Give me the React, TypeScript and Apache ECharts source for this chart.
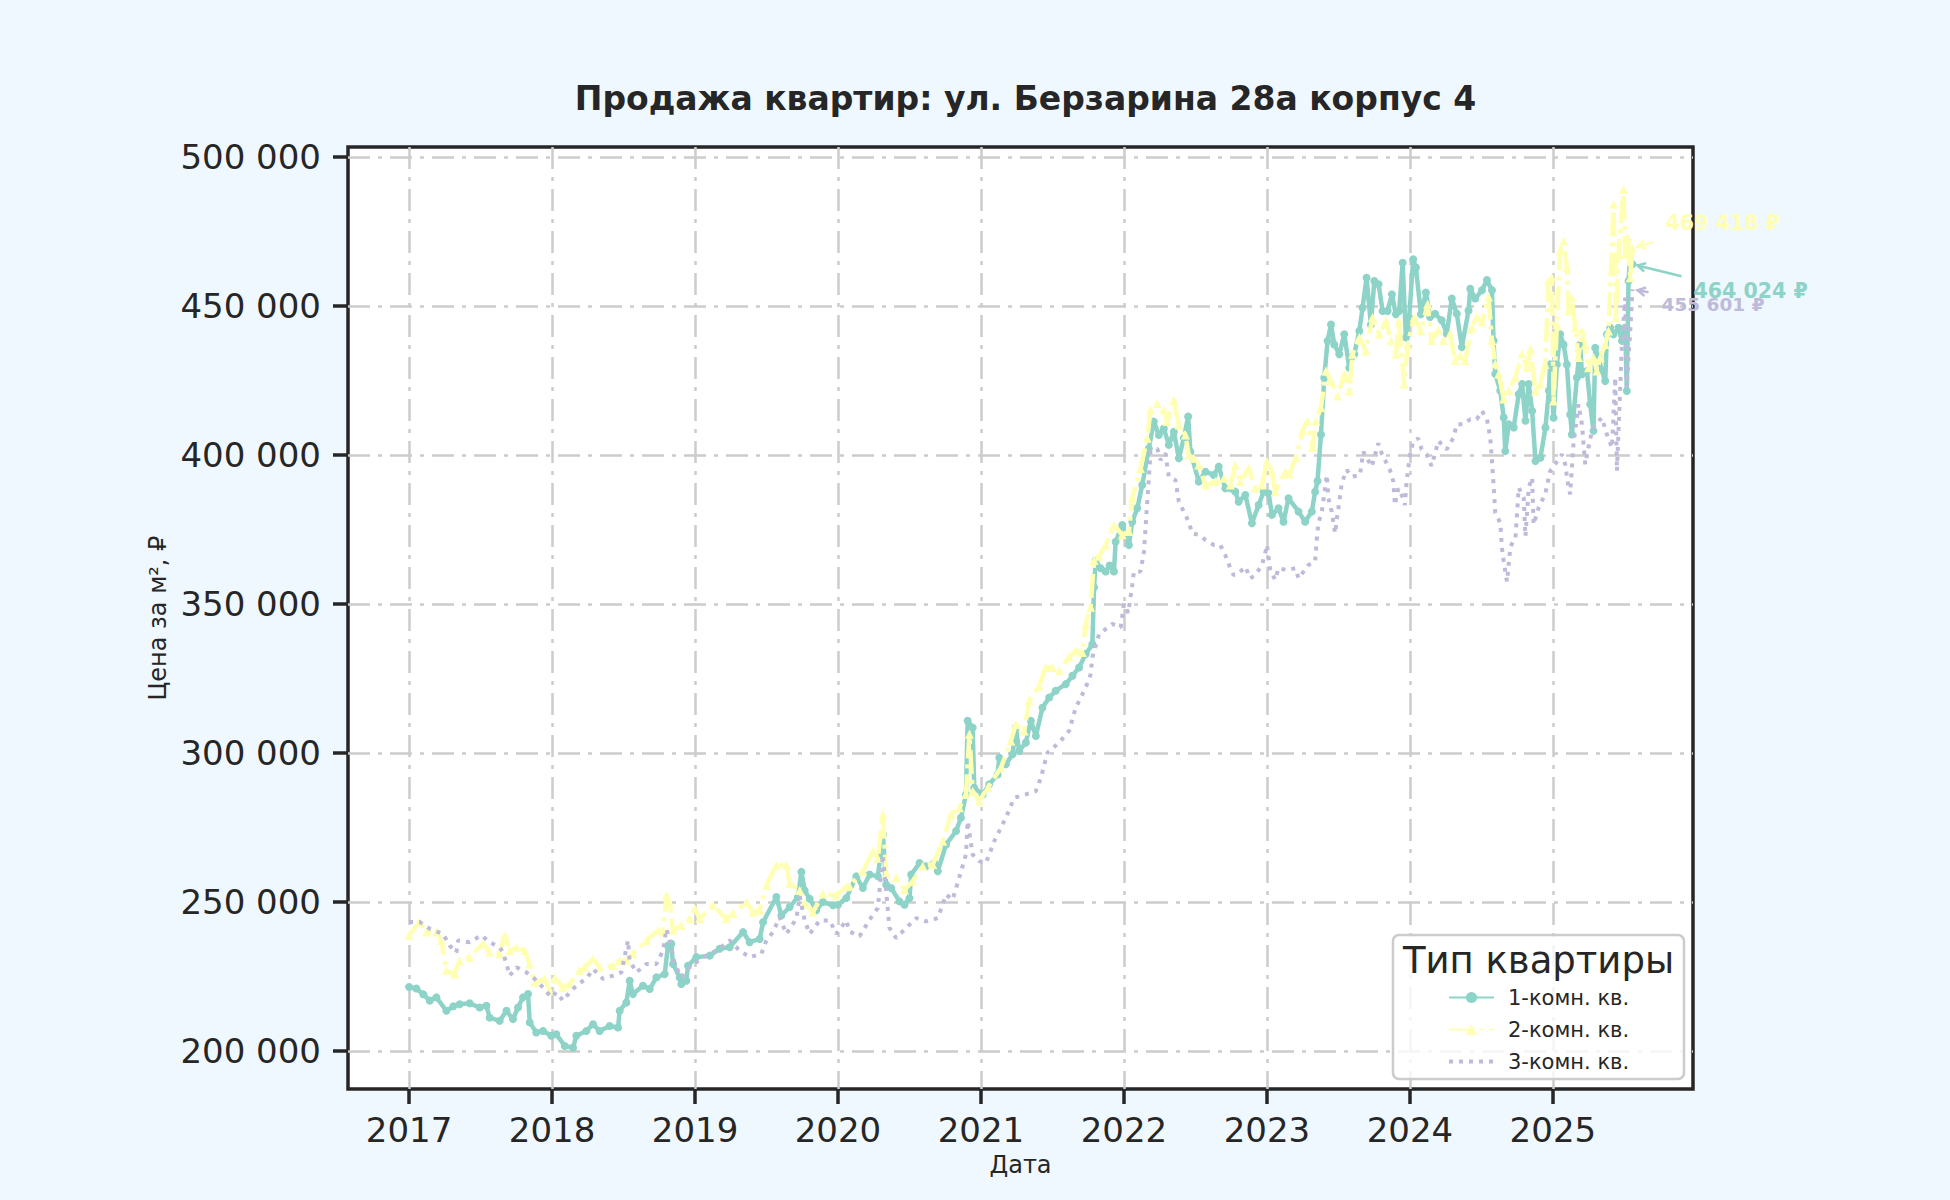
import React, { useEffect, useRef } from "react";
import * as echarts from "echarts";

const TITLE = "Продажа квартир: ул. Берзарина 28а корпус 4";
const X_NAME = "Дата";
const Y_NAME = "Цена за м², ₽";
const LEGEND_TITLE = "Тип квартиры";
const SERIES_NAMES = ["1-комн. кв.", "2-комн. кв.", "3-комн. кв."];
const COLORS = ["#8dd3c7", "#ffffb3", "#bebada"];
const X_TICKS = [2017, 2018, 2019, 2020, 2021, 2022, 2023, 2024, 2025];
const Y_TICKS = [200000, 250000, 300000, 350000, 400000, 450000, 500000];

// [decimal year, price per m²]
const oneRoom: [number, number][] = [
  [2017.000, 221500], [2017.051, 221000], [2017.100, 219000], [2017.145, 216900], [2017.191, 218000],
  [2017.261, 213500], [2017.310, 215000], [2017.354, 215700], [2017.424, 216000], [2017.494, 214600],
  [2017.541, 215200], [2017.564, 211200], [2017.634, 210100], [2017.681, 213500], [2017.727, 210700],
  [2017.762, 214600], [2017.797, 218000], [2017.832, 219100], [2017.844, 209600], [2017.890, 206200],
  [2017.937, 206700], [2017.995, 205100], [2018.030, 205600], [2018.089, 201700], [2018.147, 201100],
  [2018.170, 205100], [2018.240, 206700], [2018.287, 209000], [2018.333, 206700], [2018.403, 208400],
  [2018.462, 207900], [2018.473, 213500], [2018.520, 216300], [2018.543, 223600], [2018.566, 219100],
  [2018.636, 221900], [2018.683, 220800], [2018.730, 224700], [2018.788, 225800], [2018.811, 235400],
  [2018.834, 236000], [2018.846, 229200], [2018.893, 224700], [2018.904, 222500], [2018.939, 223600],
  [2018.951, 228600], [2019.009, 231500], [2019.103, 232000], [2019.172, 234300], [2019.242, 234800],
  [2019.336, 239900], [2019.382, 236500], [2019.452, 237600], [2019.476, 243200], [2019.569, 251700],
  [2019.604, 245500], [2019.662, 248300], [2019.720, 251700], [2019.744, 260100], [2019.767, 253900],
  [2019.802, 251100], [2019.848, 247200], [2019.895, 250000], [2019.965, 248900], [2020.000, 249100],
  [2020.058, 251300], [2020.128, 258600], [2020.174, 254700], [2020.221, 259200], [2020.279, 258600],
  [2020.314, 272600], [2020.337, 255800], [2020.372, 254700], [2020.430, 250200], [2020.465, 249100],
  [2020.500, 251300], [2020.512, 259200], [2020.570, 263100], [2020.616, 262000], [2020.674, 263100],
  [2020.698, 260300], [2020.756, 269300], [2020.826, 273800], [2020.860, 278300], [2020.895, 286100],
  [2020.907, 310800], [2020.942, 308500], [2020.953, 288300], [2021.012, 286100], [2021.058, 289500],
  [2021.116, 292800], [2021.128, 298400], [2021.174, 296200], [2021.221, 299600], [2021.244, 308500],
  [2021.267, 300700], [2021.314, 303500], [2021.349, 310800], [2021.384, 305700], [2021.430, 315200],
  [2021.477, 318600], [2021.523, 320900], [2021.593, 323100], [2021.640, 325900], [2021.686, 328700],
  [2021.733, 333200], [2021.779, 336500], [2021.791, 355600], [2021.802, 364600], [2021.837, 362000],
  [2021.872, 360900], [2021.900, 362900], [2021.930, 360900], [2021.942, 370900], [2021.988, 376500],
  [2022.035, 369800], [2022.058, 377600], [2022.093, 382100], [2022.128, 389900], [2022.174, 402200],
  [2022.209, 411200], [2022.244, 406700], [2022.279, 408900], [2022.314, 403400], [2022.349, 407800],
  [2022.384, 398900], [2022.419, 405600], [2022.449, 412900], [2022.465, 401100], [2022.523, 391100],
  [2022.570, 394400], [2022.628, 393300], [2022.663, 396100], [2022.709, 388800], [2022.779, 387700],
  [2022.802, 384300], [2022.849, 386600], [2022.895, 377100], [2022.942, 383200], [2022.977, 387700],
  [2023.012, 387100], [2023.035, 379900], [2023.081, 382100], [2023.116, 377600], [2023.151, 385500],
  [2023.221, 381000], [2023.267, 377600], [2023.314, 381000], [2023.337, 387700], [2023.354, 391300],
  [2023.378, 406900], [2023.401, 425900], [2023.424, 438300], [2023.448, 443800], [2023.471, 437100],
  [2023.506, 433800], [2023.541, 440500], [2023.576, 429300], [2023.611, 433800], [2023.646, 441600],
  [2023.669, 449400], [2023.697, 459500], [2023.727, 443800], [2023.751, 458400], [2023.781, 457300],
  [2023.809, 448300], [2023.844, 448300], [2023.874, 453900], [2023.902, 447200], [2023.925, 448300],
  [2023.949, 464500], [2023.972, 439400], [2023.995, 446100], [2024.023, 465700], [2024.042, 462900],
  [2024.077, 447200], [2024.112, 454500], [2024.141, 446300], [2024.176, 447400], [2024.222, 445200],
  [2024.258, 440700], [2024.293, 452500], [2024.328, 447400], [2024.363, 436200], [2024.410, 448500],
  [2024.422, 455800], [2024.457, 452500], [2024.504, 455300], [2024.539, 458700], [2024.574, 455300],
  [2024.585, 438400], [2024.597, 427200], [2024.632, 421600], [2024.656, 412600], [2024.667, 401300],
  [2024.691, 410300], [2024.726, 409200], [2024.761, 420400], [2024.785, 423800], [2024.808, 411500],
  [2024.831, 423800], [2024.855, 414800], [2024.878, 398000], [2024.913, 399100], [2024.948, 409200],
  [2024.972, 421600], [2024.981, 430400], [2025.005, 412500], [2025.028, 430400], [2025.051, 440500],
  [2025.075, 437100], [2025.098, 430400], [2025.121, 413600], [2025.133, 406900], [2025.168, 426000],
  [2025.191, 437100], [2025.203, 427100], [2025.238, 428200], [2025.261, 417000], [2025.284, 408100],
  [2025.296, 436000], [2025.319, 432700], [2025.343, 428200], [2025.366, 424800], [2025.378, 440500],
  [2025.401, 442700], [2025.424, 440500], [2025.459, 442700], [2025.483, 438300], [2025.506, 442700],
  [2025.517, 421500], [2025.529, 458400], [2025.541, 467300], [2025.557, 464024],
];

const twoRoom: [number, number][] = [
  [2017.000, 238800], [2017.075, 243300], [2017.121, 239900], [2017.191, 239900], [2017.226, 237100],
  [2017.261, 227000], [2017.319, 225800], [2017.354, 230300], [2017.424, 231500], [2017.517, 236000],
  [2017.564, 233100], [2017.634, 232600], [2017.669, 238800], [2017.704, 233700], [2017.751, 234800],
  [2017.809, 233700], [2017.844, 229200], [2017.879, 223000], [2017.949, 224200], [2017.984, 220200],
  [2018.019, 224700], [2018.077, 221300], [2018.124, 222500], [2018.193, 227000], [2018.228, 228100],
  [2018.287, 230900], [2018.333, 228100], [2018.427, 228700], [2018.473, 230300], [2018.520, 230300],
  [2018.566, 232600], [2018.660, 237100], [2018.741, 240400], [2018.776, 239900], [2018.800, 252200],
  [2018.823, 249400], [2018.846, 240400], [2018.904, 242100], [2018.963, 244400], [2018.998, 247800],
  [2019.033, 244400], [2019.126, 248900], [2019.219, 244400], [2019.266, 246100], [2019.359, 250000],
  [2019.406, 246600], [2019.452, 247200], [2019.499, 255600], [2019.569, 262400], [2019.639, 262400],
  [2019.662, 256200], [2019.732, 253900], [2019.767, 249400], [2019.825, 246600], [2019.895, 252800],
  [2019.988, 252200], [2020.058, 255100], [2020.081, 255300], [2020.174, 260300], [2020.244, 267000],
  [2020.279, 264700], [2020.314, 279400], [2020.337, 259200], [2020.407, 258100], [2020.465, 254100],
  [2020.523, 257000], [2020.593, 262000], [2020.663, 262600], [2020.733, 270400], [2020.791, 279400],
  [2020.849, 281600], [2020.895, 286100], [2020.919, 306300], [2020.942, 287200], [2020.988, 283900],
  [2021.047, 288300], [2021.140, 295100], [2021.209, 304000], [2021.244, 309600], [2021.302, 307400],
  [2021.337, 317500], [2021.407, 322500], [2021.453, 328700], [2021.500, 328700], [2021.547, 327600],
  [2021.616, 332100], [2021.663, 334300], [2021.709, 333700], [2021.733, 343300], [2021.767, 348900],
  [2021.791, 364600], [2021.826, 366000], [2021.872, 369800], [2021.930, 376500], [2021.988, 373200],
  [2022.035, 374300], [2022.058, 385500], [2022.116, 395500], [2022.163, 405600], [2022.186, 415100],
  [2022.233, 417300], [2022.279, 415100], [2022.302, 411200], [2022.349, 418500], [2022.384, 410100],
  [2022.430, 406700], [2022.453, 400000], [2022.488, 398900], [2022.523, 396600], [2022.570, 389900],
  [2022.640, 391100], [2022.698, 392200], [2022.744, 389900], [2022.779, 396600], [2022.814, 391100],
  [2022.872, 395500], [2022.919, 388800], [2022.965, 389900], [2023.000, 397800], [2023.035, 394400],
  [2023.058, 387700], [2023.128, 394400], [2023.156, 393500], [2023.203, 399100], [2023.249, 408100],
  [2023.284, 411400], [2023.319, 402500], [2023.343, 411400], [2023.378, 415900], [2023.413, 428200],
  [2023.448, 424800], [2023.494, 419800], [2023.541, 427100], [2023.576, 421500], [2023.599, 433800],
  [2023.646, 439400], [2023.692, 434900], [2023.739, 446100], [2023.786, 440500], [2023.832, 445000],
  [2023.867, 438300], [2023.902, 433800], [2023.925, 445000], [2023.960, 423700], [2023.984, 437100],
  [2024.030, 446100], [2024.077, 441600], [2024.124, 450600], [2024.152, 438400], [2024.199, 441800],
  [2024.234, 438400], [2024.281, 440700], [2024.316, 431700], [2024.351, 433400], [2024.386, 431700],
  [2024.433, 442900], [2024.468, 446300], [2024.504, 444600], [2024.550, 453000], [2024.574, 438400],
  [2024.597, 430600], [2024.621, 427200], [2024.656, 418800], [2024.691, 421600], [2024.738, 426100],
  [2024.785, 433900], [2024.820, 429400], [2024.843, 435600], [2024.878, 421500], [2024.911, 423700],
  [2024.946, 430400], [2024.970, 458400], [2024.993, 459500], [2025.005, 418100], [2025.028, 443800],
  [2025.051, 468500], [2025.075, 471800], [2025.098, 462900], [2025.110, 448300], [2025.133, 452800],
  [2025.156, 442700], [2025.179, 432700], [2025.203, 441600], [2025.226, 437100], [2025.249, 429300],
  [2025.284, 432700], [2025.308, 428200], [2025.331, 432700], [2025.366, 437100], [2025.389, 441600],
  [2025.424, 484100], [2025.441, 446100], [2025.459, 467300], [2025.494, 489100], [2025.506, 467300],
  [2025.524, 472900], [2025.541, 459500], [2025.557, 469418],
];

const threeRoom: [number, number][] = [
  [2017.000, 243300], [2017.075, 243300], [2017.145, 241000], [2017.238, 239300], [2017.284, 235400],
  [2017.331, 233100], [2017.343, 237100], [2017.424, 236500], [2017.506, 238800], [2017.564, 236500],
  [2017.634, 234800], [2017.657, 233100], [2017.681, 229200], [2017.704, 225300], [2017.751, 228100],
  [2017.821, 226400], [2017.879, 224200], [2017.937, 221300], [2017.995, 218000], [2018.030, 219700],
  [2018.077, 216900], [2018.124, 219700], [2018.182, 222500], [2018.240, 224200], [2018.287, 227500],
  [2018.357, 224200], [2018.427, 225300], [2018.485, 226400], [2018.531, 237100], [2018.543, 230300],
  [2018.590, 226400], [2018.660, 229200], [2018.730, 229200], [2018.776, 233700], [2018.800, 241000],
  [2018.823, 237100], [2018.858, 229200], [2018.904, 224700], [2018.963, 228100], [2019.056, 231500],
  [2019.149, 233700], [2019.242, 237100], [2019.312, 233700], [2019.382, 231500], [2019.464, 232600],
  [2019.499, 237100], [2019.545, 239900], [2019.592, 244900], [2019.639, 239300], [2019.709, 244400],
  [2019.732, 252000], [2019.767, 243800], [2019.802, 239300], [2019.872, 243800], [2019.942, 243800],
  [2019.988, 239300], [2020.058, 243800], [2020.081, 240100], [2020.151, 238500], [2020.221, 244100],
  [2020.279, 248000], [2020.314, 265900], [2020.337, 253600], [2020.360, 241300], [2020.407, 237900],
  [2020.477, 241300], [2020.547, 244600], [2020.616, 243500], [2020.698, 244600], [2020.756, 252500],
  [2020.802, 250800], [2020.895, 265900], [2020.907, 277100], [2020.942, 265900], [2020.988, 263700],
  [2021.035, 263100], [2021.093, 270400], [2021.174, 278300], [2021.233, 285000], [2021.314, 286100],
  [2021.384, 287200], [2021.419, 291700], [2021.465, 300100], [2021.547, 303500], [2021.616, 307400],
  [2021.663, 315200], [2021.733, 322000], [2021.767, 326400], [2021.779, 332100], [2021.826, 339900],
  [2021.919, 343300], [2021.977, 342100], [2022.000, 350000], [2022.030, 347000], [2022.058, 356400],
  [2022.070, 360900], [2022.116, 360900], [2022.140, 367600], [2022.151, 375400], [2022.163, 384300],
  [2022.174, 392200], [2022.186, 401100], [2022.233, 402200], [2022.256, 398300], [2022.291, 400600],
  [2022.302, 396600], [2022.314, 392700], [2022.360, 391600], [2022.384, 384300], [2022.419, 381000],
  [2022.453, 377600], [2022.477, 373700], [2022.523, 373200], [2022.570, 371500], [2022.628, 369800],
  [2022.674, 369800], [2022.709, 366400], [2022.744, 362000], [2022.767, 359700], [2022.802, 360300],
  [2022.849, 362500], [2022.884, 358600], [2022.919, 359700], [2022.965, 363100], [2022.988, 367000],
  [2023.000, 369800], [2023.023, 361400], [2023.058, 358100], [2023.081, 362000], [2023.140, 361400],
  [2023.198, 362000], [2023.221, 358600], [2023.291, 363100], [2023.337, 364200], [2023.349, 372000],
  [2023.360, 377100], [2023.384, 381000], [2023.419, 393300], [2023.430, 385500], [2023.453, 381000],
  [2023.477, 373700], [2023.488, 378200], [2023.500, 382100], [2023.523, 390500], [2023.558, 395000],
  [2023.593, 392700], [2023.651, 393300], [2023.674, 401100], [2023.733, 396100], [2023.779, 403900],
  [2023.802, 400600], [2023.860, 395000], [2023.884, 391100], [2023.895, 383200], [2023.919, 388800],
  [2023.953, 385500], [2023.965, 383200], [2023.977, 391100], [2024.000, 400000], [2024.023, 404500],
  [2024.058, 405600], [2024.082, 401900], [2024.117, 400200], [2024.152, 396300], [2024.199, 404700],
  [2024.258, 401900], [2024.304, 405800], [2024.328, 410300], [2024.375, 410300], [2024.422, 412000],
  [2024.468, 412000], [2024.504, 414800], [2024.539, 412000], [2024.562, 405800], [2024.574, 398000],
  [2024.585, 390100], [2024.597, 380600], [2024.632, 377200], [2024.644, 368800], [2024.656, 364300],
  [2024.679, 357500], [2024.703, 369300], [2024.738, 372100], [2024.749, 380000], [2024.761, 389000],
  [2024.796, 385600], [2024.808, 372700], [2024.831, 389000], [2024.855, 392400], [2024.865, 376700],
  [2024.900, 382300], [2024.946, 386800], [2024.981, 394600], [2025.016, 396900], [2025.063, 400200],
  [2025.086, 396900], [2025.110, 389000], [2025.121, 386800], [2025.144, 403600], [2025.179, 417000],
  [2025.203, 410300], [2025.226, 396900], [2025.249, 402500], [2025.273, 408100], [2025.296, 410300],
  [2025.343, 412500], [2025.378, 406900], [2025.413, 402500], [2025.436, 426000], [2025.448, 394600],
  [2025.459, 408100], [2025.483, 437100], [2025.506, 452800], [2025.517, 422600], [2025.529, 432700],
  [2025.541, 441600], [2025.557, 455601],
];

const SERIES_DATA = [oneRoom, twoRoom, threeRoom];

const FONT = "DejaVu Sans";
const DARK = "#262626";
const fmtNum = (v: number) => String(Math.round(v)).replace(/\B(?=(\d{3})+(?!\d))/g, " ");

// annotation text offsets relative to each last point (pixels) and arrow geometry
const ANNOT = [
  { dx: 61, dy: 27, size: 20.5, ax: 49, ay: 12 },
  { dx: 33, dy: -25, size: 20.5, ax: 21, ay: -6 },
  { dx: 29, dy: 15, size: 18.5, ax: 16, ay: 3 },
];

export default function App() {
  const ref = useRef<HTMLDivElement>(null);

  useEffect(() => {
    if (!ref.current) return;
    const chart = echarts.init(ref.current, null, { renderer: "svg" });

    const lineStyles: any[] = [
      { width: 4.5, type: "solid" },
      { width: 4.5, type: [24, 6, 4, 6] },
      { width: 4, type: [4, 6], cap: "butt" },
    ];
    const symbols = ["circle", "triangle", "none"];
    const symbolSizes = [8, 9, 0];

    const option: any = {
      animation: false,
      backgroundColor: "#f0f8ff",
      textStyle: { fontFamily: FONT },
      title: {
        text: TITLE,
        left: 1020.5,
        top: 77,
        textAlign: "center",
        textStyle: { fontFamily: FONT, fontSize: 33, fontWeight: "bold", color: DARK },
      },
      grid: {
        left: 348,
        right: 257,
        top: 147,
        bottom: 111,
        show: true,
        backgroundColor: "#ffffff",
        borderColor: DARK,
        borderWidth: 3.5,
        containLabel: false,
        outerBoundsMode: "none",
      },
      legend: {
        data: SERIES_NAMES.map((n, i) =>
          i === 2
            ? { name: n, itemStyle: { opacity: 0 }, lineStyle: { opacity: 1, color: COLORS[2], width: 4, type: [4, 6] } }
            : { name: n }
        ),
        orient: "vertical",
        left: 1442,
        top: 982,
        itemWidth: 45,
        itemHeight: 14,
        itemGap: 11,
        z: 5,
        textStyle: { fontFamily: FONT, fontSize: 21, color: DARK, padding: [0, 0, 0, 9] },
      },
      xAxis: {
        type: "value",
        min: 2016.573,
        max: 2025.98,
        name: X_NAME,
        nameLocation: "middle",
        nameGap: 64,
        nameTextStyle: { fontFamily: FONT, fontSize: 24, color: DARK },
        axisLine: { show: false },
        axisTick: { show: true, customValues: X_TICKS, length: 15, lineStyle: { color: DARK, width: 3.5 } },
        axisLabel: {
          customValues: X_TICKS,
          margin: 24,
          fontFamily: FONT,
          fontSize: 34,
          color: DARK,
          formatter: (v: number) => String(Math.round(v)),
        },
        splitLine: { show: true, lineStyle: { color: "#cccccc", width: 2.5, type: [22, 8, 4, 8] } },
      },
      yAxis: {
        type: "value",
        min: 187250,
        max: 503350,
        name: Y_NAME,
        nameLocation: "middle",
        nameGap: 178,
        nameRotate: 90,
        nameTextStyle: { fontFamily: FONT, fontSize: 24, color: DARK },
        axisLine: { show: false },
        axisTick: { show: true, customValues: Y_TICKS, length: 15, lineStyle: { color: DARK, width: 3.5 } },
        axisLabel: {
          customValues: Y_TICKS,
          margin: 27,
          fontFamily: FONT,
          fontSize: 34,
          color: DARK,
          formatter: (v: number) => fmtNum(v),
        },
        splitLine: { show: true, lineStyle: { color: "#cccccc", width: 2.5, type: [22, 8, 4, 8] } },
      },
      series: SERIES_DATA.map((d, i) => ({
        name: SERIES_NAMES[i],
        type: "line",
        data: d,
        color: COLORS[i],
        symbol: symbols[i],
        symbolSize: symbolSizes[i],
        showSymbol: i !== 2,
        showAllSymbol: true,
        lineStyle: { color: COLORS[i], ...lineStyles[i] },
        itemStyle: { color: COLORS[i] },
        z: 2 + i * 0.1,
      })),
    };

    chart.setOption(option);

    const graphics: any[] = [
      {
        type: "rect",
        z: 4,
        shape: { x: 1393, y: 935, width: 291, height: 144, r: 6 },
        style: { fill: "rgba(255,255,255,0.8)", stroke: "#cccccc", lineWidth: 2.5 },
      },
      {
        type: "text",
        z: 5,
        x: 1538.5,
        y: 960.5,
        style: {
          text: LEGEND_TITLE,
          fill: DARK,
          font: `37px "${FONT}"`,
          align: "center",
          verticalAlign: "middle",
        },
      },
    ];

    SERIES_DATA.forEach((d, i) => {
      const last = d[d.length - 1];
      const p = chart.convertToPixel({ seriesIndex: i }, last) as number[];
      const a = ANNOT[i];
      graphics.push({
        type: "text",
        z: 6,
        x: p[0] + a.dx,
        y: p[1] + a.dy,
        style: {
          text: fmtNum(last[1]) + " ₽",
          fill: COLORS[i],
          font: `bold ${a.size}px "${FONT}"`,
          align: "left",
          verticalAlign: "middle",
        },
      });
      const sx = p[0] + a.ax;
      const sy = p[1] + a.ay;
      const ex = p[0] + 5;
      const ey = p[1] + (a.ay / a.ax) * 5;
      const ang = Math.atan2(ey - sy, ex - sx);
      const hl = 9;
      const spread = 0.5;
      graphics.push({
        type: "line",
        z: 6,
        shape: { x1: sx, y1: sy, x2: ex, y2: ey },
        style: { stroke: COLORS[i], lineWidth: 2.5 },
      });
      graphics.push({
        type: "polyline",
        z: 6,
        shape: {
          points: [
            [ex - hl * Math.cos(ang - spread), ey - hl * Math.sin(ang - spread)],
            [ex, ey],
            [ex - hl * Math.cos(ang + spread), ey - hl * Math.sin(ang + spread)],
          ],
        },
        style: { stroke: COLORS[i], lineWidth: 2.5, fill: "none" },
      });
    });

    chart.setOption({ graphic: graphics });

    return () => chart.dispose();
  }, []);

  return (
    <div
      ref={ref}
      style={{ position: "fixed", left: 0, top: 0, width: 1950, height: 1200 }}
    />
  );
}
